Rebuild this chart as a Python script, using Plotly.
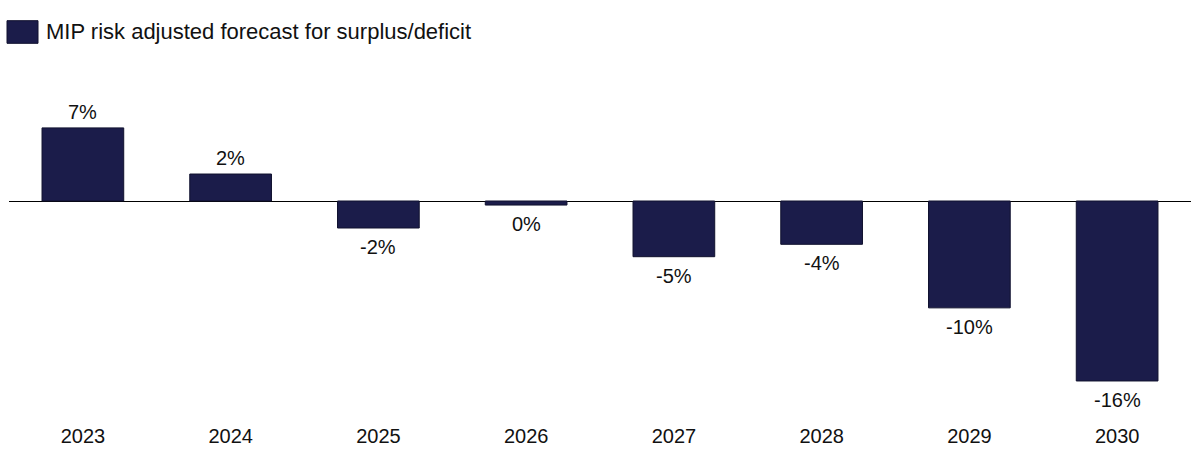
import plotly.graph_objects as go

years = ["2023", "2024", "2025", "2026", "2027", "2028", "2029", "2030"]
values = [6.5, 2.4, -2.4, -0.36, -4.95, -3.85, -9.5, -16.0]
labels = ["7%", "2%", "-2%", "0%", "-5%", "-4%", "-10%", "-16%"]
series_name = "MIP risk adjusted forecast for surplus/deficit"

BAR = "#1b1c4a"
FONT = "Liberation Sans"

fig = go.Figure()
fig.add_trace(go.Bar(
    x=years, y=values, name=series_name,
    marker=dict(color=BAR, line=dict(color="#10112e", width=1)),
    width=0.553, showlegend=False, hoverinfo="x+y",
))

for i, (v, lab) in enumerate(zip(values, labels)):
    if v >= 0:
        fig.add_annotation(x=i, y=v, text=lab, showarrow=False,
                           yanchor="bottom", yshift=3,
                           font=dict(family=FONT, size=20, color="#111"))
    else:
        fig.add_annotation(x=i, y=v, text=lab, showarrow=False,
                           yanchor="top", yshift=-6,
                           font=dict(family=FONT, size=20, color="#111"))

# legend (manual)
fig.add_shape(type="rect", xref="paper", yref="paper",
              x0=(7 - 9) / 1182, x1=(38 - 9) / 1182,
              y0=(420 - 43.3) / 330, y1=(420 - 20.7) / 330,
              fillcolor=BAR, line=dict(color="#10112e", width=1))
fig.add_annotation(xref="paper", yref="paper", x=(44 - 9) / 1182, y=(420 - 32) / 330,
                   xanchor="left", yanchor="middle", text=series_name, showarrow=False,
                   font=dict(family=FONT, size=22, color="#111"))

fig.update_layout(
    width=1200, height=454,
    margin=dict(l=9, r=9, t=90, b=34, autoexpand=False),
    plot_bgcolor="white", paper_bgcolor="white",
    bargap=0.447,
    font=dict(family=FONT, size=20, color="#111"),
    xaxis=dict(type="category", range=[-0.5, len(years) - 0.5], showgrid=False,
               showline=False, ticks="", tickfont=dict(size=20), ticklabelstandoff=2,
               automargin=False),
    yaxis=dict(range=[-19.47, 9.87], showgrid=False, showticklabels=False,
               zeroline=True, zerolinecolor="#000", zerolinewidth=1, automargin=False),
)

fig.write_html("out.html", config={"displayModeBar": False},
               post_script="document.body.style.margin='0';document.body.style.padding='0';")
